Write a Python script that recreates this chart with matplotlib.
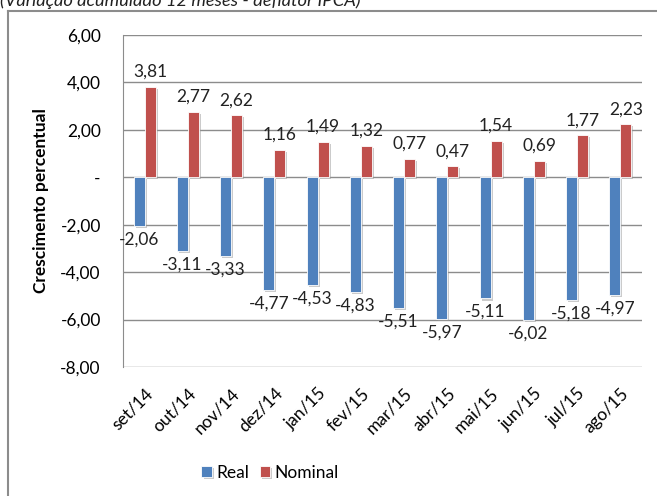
import matplotlib.pyplot as plt
import matplotlib.patheffects as pe
import numpy as np

plt.rcParams['font.family'] = ['Lato', 'DejaVu Sans']

meses = ['set/14', 'out/14', 'nov/14', 'dez/14', 'jan/15', 'fev/15',
         'mar/15', 'abr/15', 'mai/15', 'jun/15', 'jul/15', 'ago/15']
real = [-2.06, -3.11, -3.33, -4.77, -4.53, -4.83,
        -5.51, -5.97, -5.11, -6.02, -5.18, -4.97]
nominal = [3.81, 2.77, 2.62, 1.16, 1.49, 1.32,
           0.77, 0.47, 1.54, 0.69, 1.77, 2.23]
yticks = [6, 4, 2, 0, -2, -4, -6, -8]

DPI = 100
FS = 12.5
fig = plt.figure(dpi=DPI, figsize=(657 / DPI, 496 / DPI))
ax = fig.add_axes([123 / 657, 1 - 367 / 496, 519 / 657, 332 / 496])

x = np.arange(len(meses))
w = 0.255
shadow = [pe.SimplePatchShadow(offset=(1.5, -1.5), shadow_rgbFace='#999999', alpha=0.5), pe.Normal()]
b1 = ax.bar(x - w / 2, real, w, color='#4F81BD', edgecolor='white', linewidth=0.6,
            label='Real', path_effects=shadow)
b2 = ax.bar(x + w / 2, nominal, w, color='#C0504D', edgecolor='white', linewidth=0.6,
            label='Nominal', path_effects=shadow)


def fmt(v):
    return ('%.2f' % v).replace('.', ',')


for xi, v in zip(x - w / 2, real):
    ax.annotate(fmt(v), (xi, v), xytext=(0, -4), textcoords='offset points',
                ha='center', va='top', fontsize=FS, color='#222222')
for xi, v in zip(x + w / 2, nominal):
    ax.annotate(fmt(v), (xi, v), xytext=(0, 5), textcoords='offset points',
                ha='center', va='bottom', fontsize=FS, color='#222222')

ax.set_xlim(-0.5, len(meses) - 0.5)
ax.set_ylim(-8, 6)
ax.set_yticks(yticks)
ax.set_yticklabels(['-' if t == 0 else fmt(t) for t in yticks], fontsize=FS)
ax.set_xticks(x)
ax.set_xticklabels(meses, rotation=45, ha='right', rotation_mode='anchor', fontsize=FS)
ax.tick_params(length=0, pad=16)
ax.tick_params(axis='x', pad=13)
ax.yaxis.grid(True, color='#8c8c8c', linewidth=1)
ax.set_axisbelow(True)
for s in ['top', 'right', 'bottom']:
    ax.spines[s].set_visible(False)
ax.spines['left'].set_color('#8c8c8c')
ax.set_ylabel('Crescimento percentual', fontsize=FS, fontweight='bold', labelpad=8)

fig.legend(handles=[b1, b2], loc='center', bbox_to_anchor=(270 / 657, 1 - 473 / 496),
           ncol=2, frameon=False, fontsize=FS, handlelength=0.6, handleheight=0.6,
           columnspacing=0.6, handletextpad=0.25)

# moldura do gráfico
fig.add_artist(plt.Line2D([8 / 657, 8 / 657], [0, 1 - 11 / 496], color='#8c8c8c',
                          linewidth=1.5, transform=fig.transFigure))
fig.add_artist(plt.Line2D([8 / 657, 1], [1 - 11 / 496, 1 - 11 / 496], color='#8c8c8c',
                          linewidth=1.5, transform=fig.transFigure))
fig.text(0.0, 1 - 1 / 496, '(Variação acumulado 12 meses - deflator IPCA)',
         fontsize=13.2, style='italic', ha='left', va='center', color='#222222')

fig.savefig('out.png')
